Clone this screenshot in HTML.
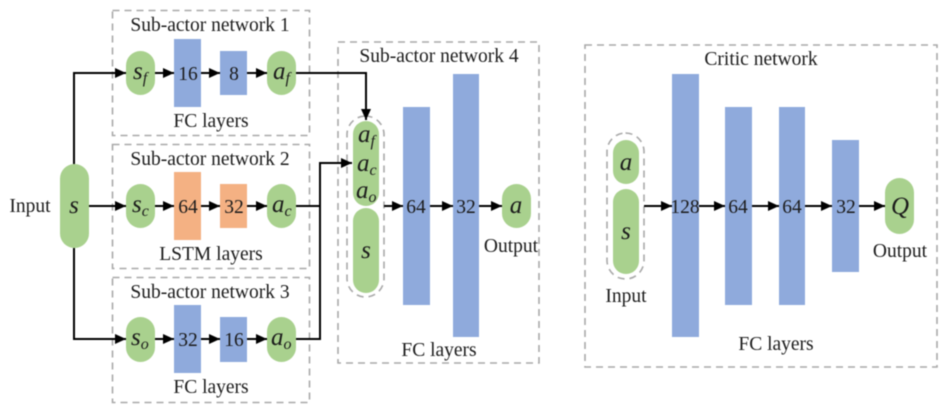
<!DOCTYPE html>
<html><head><meta charset="utf-8">
<style>
html,body{margin:0;padding:0;background:#fff;width:950px;height:408px;overflow:hidden}
svg{display:block;filter:blur(0.45px)}
text{font-family:"Liberation Serif",serif;fill:#1c1c1c;font-size:19.5px}
.c{text-anchor:middle}
.i{font-style:italic;font-size:25px}
.sub{font-style:italic;font-size:16px}
.d{fill:none;stroke:#a9a9a9;stroke-width:1.6;stroke-dasharray:7 5}
.g{fill:#a9d18e}.b{fill:#8faadc}.o{fill:#f4b183}
.l{fill:none;stroke:#000;stroke-width:2}
</style></head><body>
<svg width="950" height="408" viewBox="0 0 950 408" xmlns="http://www.w3.org/2000/svg">
<defs><marker id="a" markerUnits="userSpaceOnUse" markerWidth="12" markerHeight="12" refX="11" refY="6" orient="auto"><path d="M0 1L11 6L0 11z" fill="#000"/></marker></defs>
<rect width="950" height="408" fill="#fff"/>
<rect class="d" x="112.500" y="10.500" width="197" height="125"/>
<rect class="d" x="112.500" y="144.500" width="197" height="124"/>
<rect class="d" x="112.500" y="277.500" width="197" height="125"/>
<rect class="d" x="338" y="42" width="201" height="321"/>
<rect class="d" x="585" y="45" width="352" height="322"/>

<rect class="g" x="60" y="164" width="29" height="84" rx="14.500"/>
<rect class="g" x="126" y="51" width="29" height="44" rx="14.500"/>
<rect class="b" x="174" y="39" width="27" height="68"/>
<rect class="b" x="220" y="51" width="27" height="44"/>
<rect class="g" x="267" y="51" width="29" height="44" rx="14.500"/>
<rect class="g" x="126" y="184" width="29" height="44" rx="14.500"/>
<rect class="o" x="174" y="172" width="27" height="68"/>
<rect class="o" x="220" y="184" width="27" height="44"/>
<rect class="g" x="267" y="184" width="29" height="44" rx="14.500"/>
<rect class="g" x="126" y="317" width="29" height="45" rx="14.500"/>
<rect class="b" x="174" y="305" width="27" height="68"/>
<rect class="b" x="220" y="317" width="27" height="45"/>
<rect class="g" x="267" y="317" width="29" height="45" rx="14.500"/>

<rect class="g" x="353" y="121" width="26" height="85" rx="13"/>
<rect class="g" x="353" y="208" width="26" height="85" rx="13"/>
<rect class="d" x="347" y="116" width="37" height="181" rx="18.500"/>
<rect class="b" x="403" y="107" width="27" height="198"/>
<rect class="b" x="453" y="74" width="26" height="263"/>
<rect class="g" x="502" y="184" width="29" height="44" rx="14.500"/>

<rect class="g" x="613" y="140" width="26" height="44" rx="13"/>
<rect class="g" x="613" y="189" width="26" height="85" rx="13"/>
<rect class="d" x="607" y="133" width="37" height="146" rx="18.500"/>
<rect class="b" x="672" y="74" width="27" height="263"/>
<rect class="b" x="725" y="107" width="27" height="198"/>
<rect class="b" x="779" y="107" width="26" height="198"/>
<rect class="b" x="832" y="140" width="27" height="132"/>
<rect class="g" x="885" y="178" width="29" height="56" rx="14.500"/>

<g class="l">
<path class="l" marker-end="url(#a)" d="M74 164V73H126"/>
<path class="l" marker-end="url(#a)" d="M74 248V339H126"/>
<path class="l" marker-end="url(#a)" d="M89 206H126"/>
<path class="l" marker-end="url(#a)" d="M155 73H174"/>
<path class="l" marker-end="url(#a)" d="M201 73H220"/>
<path class="l" marker-end="url(#a)" d="M247 73H267"/>
<path class="l" marker-end="url(#a)" d="M155 206H174"/>
<path class="l" marker-end="url(#a)" d="M201 206H220"/>
<path class="l" marker-end="url(#a)" d="M247 206H267"/>
<path class="l" marker-end="url(#a)" d="M155 339H174"/>
<path class="l" marker-end="url(#a)" d="M201 339H220"/>
<path class="l" marker-end="url(#a)" d="M247 339H267"/>
<path class="l" marker-end="url(#a)" d="M296 73H366V120"/>
<path class="l" d="M296 206H320"/>
<path class="l" marker-end="url(#a)" d="M296 339H320V163H352"/>
<path class="l" marker-end="url(#a)" d="M384 206H403"/>
<path class="l" marker-end="url(#a)" d="M430 206H453"/>
<path class="l" marker-end="url(#a)" d="M479 206H502"/>
<path class="l" marker-end="url(#a)" d="M644 206H672"/>
<path class="l" marker-end="url(#a)" d="M699 206H725"/>
<path class="l" marker-end="url(#a)" d="M752 206H779"/>
<path class="l" marker-end="url(#a)" d="M805 206H832"/>
<path class="l" marker-end="url(#a)" d="M859 206H885"/>
</g>

<text class="c" x="210" y="31">Sub-actor network 1</text>
<text class="c" x="210" y="165">Sub-actor network 2</text>
<text class="c" x="210" y="298">Sub-actor network 3</text>
<text class="c" x="439" y="62">Sub-actor network 4</text>
<text class="c" x="761" y="65">Critic network</text>
<text class="c" x="211" y="127">FC layers</text>
<text class="c" x="211" y="260">LSTM layers</text>
<text class="c" x="211" y="393">FC layers</text>
<text class="c" x="439" y="356">FC layers</text>
<text class="c" x="776" y="350">FC layers</text>
<text class="c" x="30" y="212">Input</text>
<text class="c" x="626" y="302">Input</text>
<text class="c" x="511" y="252">Output</text>
<text class="c" x="900" y="257">Output</text>

<text class="c" x="188" y="80">16</text>
<text class="c" x="234" y="80">8</text>
<text class="c" x="188" y="213">64</text>
<text class="c" x="234" y="213">32</text>
<text class="c" x="188" y="346">32</text>
<text class="c" x="234" y="346">16</text>
<text class="c" x="416" y="213">64</text>
<text class="c" x="466" y="213">32</text>
<text class="c" x="685" y="213">128</text>
<text class="c" x="738" y="213">64</text>
<text class="c" x="792" y="213">64</text>
<text class="c" x="846" y="213">32</text>

<text class="c i" x="74" y="213">s</text>
<text class="i" x="133" y="79">s<tspan class="sub" dy="4">f</tspan></text>
<text class="i" x="273" y="79">a<tspan class="sub" dy="4">f</tspan></text>
<text class="i" x="132" y="212">s<tspan class="sub" dy="4">c</tspan></text>
<text class="i" x="272" y="212">a<tspan class="sub" dy="4">c</tspan></text>
<text class="i" x="131" y="345">s<tspan class="sub" dy="4">o</tspan></text>
<text class="i" x="271" y="345">a<tspan class="sub" dy="4">o</tspan></text>
<text class="i" x="358" y="142">a<tspan class="sub" dy="4">f</tspan></text>
<text class="i" x="357" y="171">a<tspan class="sub" dy="4">c</tspan></text>
<text class="i" x="356" y="198">a<tspan class="sub" dy="4">o</tspan></text>
<text class="c i" x="366" y="258">s</text>
<text class="c i" x="516" y="213">a</text>
<text class="c i" x="626" y="170">a</text>
<text class="c i" x="626" y="239">s</text>
<text class="c i" x="900" y="214">Q</text>
</svg>
</body></html>
